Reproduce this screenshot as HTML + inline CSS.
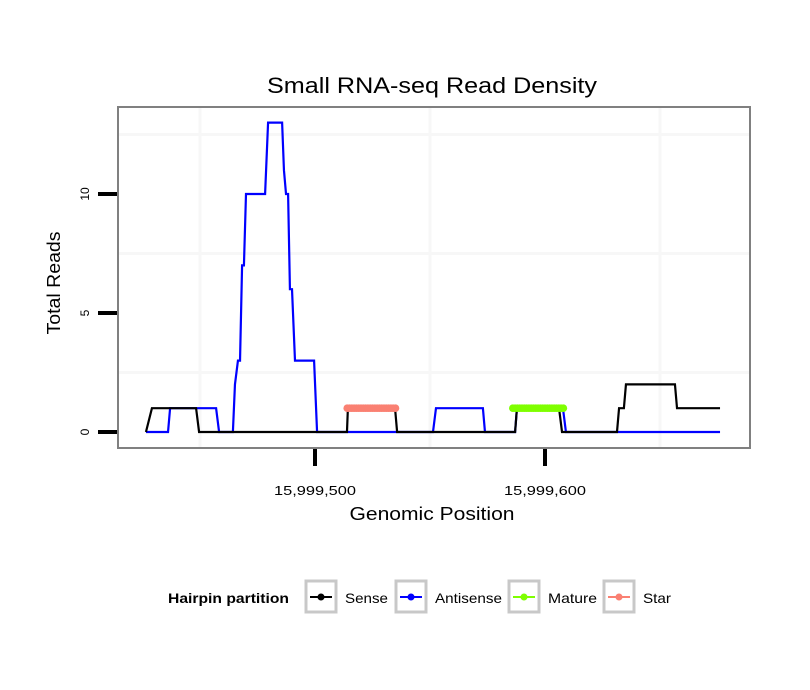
<!DOCTYPE html>
<html><head><meta charset="utf-8"><style>
html,body{margin:0;padding:0;background:#fff;}
svg{display:block;font-family:"Liberation Sans",sans-serif;}
</style></head><body>
<svg id="chart" width="810" height="690">
<text x="432" y="93" font-size="22" text-anchor="middle" textLength="330" lengthAdjust="spacingAndGlyphs">Small RNA-seq Read Density</text>
<g id="grid"></g>
<g id="series"></g>
<rect x="118" y="107" width="632" height="341" fill="none" stroke="#808080" stroke-width="2"/>
<g id="axes"></g>
<text x="432" y="520" font-size="18" text-anchor="middle" textLength="165" lengthAdjust="spacingAndGlyphs">Genomic Position</text>
<text transform="translate(60,283) rotate(-90)" font-size="18" text-anchor="middle" textLength="103" lengthAdjust="spacingAndGlyphs">Total Reads</text>
<g>
<text x="168" y="603" font-size="14" font-weight="bold" textLength="121" lengthAdjust="spacingAndGlyphs">Hairpin partition</text>
<g>
<rect x="306" y="581" width="30" height="31" fill="#fff" stroke="#c8c8c8" stroke-width="3"/>
<line x1="310" y1="597" x2="332" y2="597" stroke="#000" stroke-width="2"/><circle cx="321" cy="597" r="3.5" fill="#000"/>
<text x="345" y="603" font-size="14" textLength="43" lengthAdjust="spacingAndGlyphs">Sense</text></g>
<g>
<rect x="396" y="581" width="30" height="31" fill="#fff" stroke="#c8c8c8" stroke-width="3"/>
<line x1="400" y1="597" x2="422" y2="597" stroke="#0000ff" stroke-width="2"/><circle cx="411" cy="597" r="3.5" fill="#0000ff"/>
<text x="435" y="603" font-size="14" textLength="67" lengthAdjust="spacingAndGlyphs">Antisense</text></g>
<g>
<rect x="509" y="581" width="30" height="31" fill="#fff" stroke="#c8c8c8" stroke-width="3"/>
<line x1="513" y1="597" x2="535" y2="597" stroke="#7fff00" stroke-width="2"/><circle cx="524" cy="597" r="3.5" fill="#7fff00"/>
<text x="548" y="603" font-size="14" textLength="49" lengthAdjust="spacingAndGlyphs">Mature</text></g>
<g>
<rect x="604" y="581" width="30" height="31" fill="#fff" stroke="#c8c8c8" stroke-width="3"/>
<line x1="608" y1="597" x2="630" y2="597" stroke="#fa8072" stroke-width="2"/><circle cx="619" cy="597" r="3.5" fill="#fa8072"/>
<text x="643" y="603" font-size="14" textLength="28" lengthAdjust="spacingAndGlyphs">Star</text></g>
</g>
</svg>
<script>
// positions are offsets from 15,999,400
const sensePos = [26.5,29.1,48.3,49.6,113.9,114.3,134.8,135.7,187,187.8,206.1,207.4,231.3,232.2,234.3,235.2,256.5,257.4,276.1];
const senseVal = [0,1,1,0,0,1,1,0,0,1,1,0,0,1,1,2,2,1,1];
const antiPos = [26.5,36.1,37,57,58.3,64.3,65.2,66.5,67.4,68.3,69.1,70,78.3,79.6,85.7,86.5,87.4,88.3,89.1,90,91.3,99.6,100.9,151.3,152.6,173,173.9,187,187.8,207.8,209.1,276.1];
const antiVal = [0,0,1,1,0,0,2,3,3,7,7,10,10,13,13,11,10,10,6,6,3,3,0,0,1,1,0,0,1,1,0,0];
const starStart = 114, starEnd = 135, starVal = 1;
const matureStart = 186, matureEnd = 208, matureVal = 1;
const yTicks = [0,5,10];
const xTicks = [100,200];
const xTickLabels = ["15,999,500","15,999,600"];
const xGrid = [50,150,250];
const yGrid = [2.5,7.5,12.5];

const NS="http://www.w3.org/2000/svg";
const X = p => 315 + (p-100)*2.3;
const Y = v => 432 - v*23.8;
function mk(tag, attrs, parent){const e=document.createElementNS(NS,tag);for(const k in attrs)e.setAttribute(k,attrs[k]);parent.appendChild(e);return e;}
const grid=document.getElementById('grid'), series=document.getElementById('series'), axes=document.getElementById('axes');
xGrid.forEach(g=>{const l=mk('line',{x1:X(g),x2:X(g),y1:108,y2:447,stroke:'#f7f7f7','stroke-width':3},grid);

});
yGrid.forEach(g=>{const l=mk('line',{x1:119,x2:749,y1:Y(g),y2:Y(g),stroke:'#f7f7f7','stroke-width':3},grid);

});
function pts(ps,vs){return ps.map((p,i)=>X(p)+','+Y(vs[i])).join(' ');}
const ba=mk('polyline',{points:pts(antiPos,antiVal),fill:'none',stroke:'#0000ff','stroke-width':2.2},series);


const bs=mk('polyline',{points:pts(sensePos,senseVal),fill:'none',stroke:'#000','stroke-width':2.2},series);


function band(s,e,v,col,name){
  const l=mk('line',{x1:X(s),x2:X(e),y1:Y(v),y2:Y(v),stroke:col,'stroke-width':5},series);
  
  
  for(let p=s;p<=e;p++){const c=mk('circle',{cx:X(p),cy:Y(v),r:3.8,fill:col},series);
  
  }
}
band(starStart,starEnd,starVal,'#fa8072','star');
band(matureStart,matureEnd,matureVal,'#7fff00','mature');
yTicks.forEach(t=>{const l=mk('line',{x1:98,x2:117,y1:Y(t),y2:Y(t),stroke:'#000','stroke-width':4},axes);


const tx=mk('text',{transform:`translate(89,${Y(t)}) rotate(-90)`,'font-size':12,'text-anchor':'middle'},axes);tx.textContent=t;

});
xTicks.forEach((t,i)=>{const l=mk('line',{x1:X(t),x2:X(t),y1:449,y2:466,stroke:'#000','stroke-width':4},axes);


const tx=mk('text',{x:X(t),y:495,'font-size':13,'text-anchor':'middle',textLength:82,lengthAdjust:'spacingAndGlyphs'},axes);tx.textContent=xTickLabels[i];

});
</script>
</body></html>
